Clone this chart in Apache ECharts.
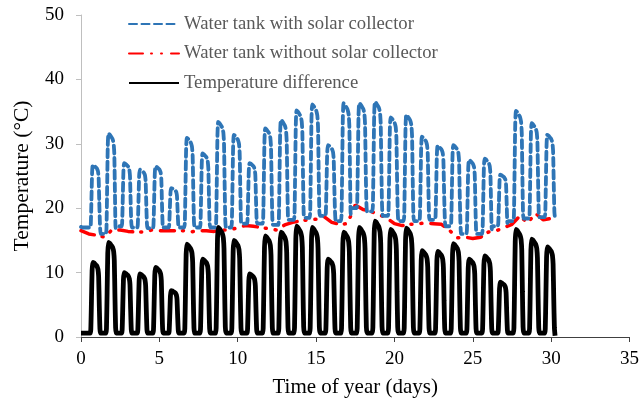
<!DOCTYPE html>
<html>
<head>
<meta charset="utf-8">
<script src="https://cdn.jsdelivr.net/npm/echarts@6/dist/echarts.min.js"></script>
<style>
  html, body { margin: 0; padding: 0; background: #fff; }
  #main { width: 642px; height: 403px; }
</style>
</head>
<body>
<div id="main"></div>
<script>
// daily peak values (cycle k peaks near day k)
var tankPeak = [26.7, 31.6, 27.0, 26.0, 26.5, 23.1, 30.9, 28.5, 33.4, 31.4,
                27.0, 32.4, 33.7, 35.2, 36.1, 29.8, 36.3, 36.3, 36.5, 34.1,
                34.5, 31.1, 29.7, 29.8, 27.5, 27.7, 25.2, 35.1, 33.2, 31.4];
// night-time tank temperature before each peak
var tankLow = [17.0, 16.0, 17.2, 17.0, 16.9, 17.0, 17.0, 17.0, 17.0, 17.0,
               17.6, 17.6, 17.4, 18.2, 18.5, 18.8, 18.0, 20.0, 19.5, 18.8,
               18.0, 18.0, 18.2, 17.2, 16.0, 16.0, 17.2, 18.0, 18.4, 18.6];
var diffPeak = [11.6, 14.7, 10.0, 9.8, 10.8, 7.2, 14.4, 12.1, 17.0, 15.0,
                9.8, 15.7, 16.3, 17.2, 17.0, 12.1, 16.3, 17.0, 18.0, 16.7,
                16.9, 13.4, 13.3, 14.5, 12.1, 12.6, 8.5, 16.7, 15.2, 14.0];
var diffLow = 0.6;
// tank without collector, every half day from day 0 to day 30
var plainTank = [16.5, 16.0, 15.8, 15.5, 16.7, 16.6, 16.4, 16.3, 16.3, 16.6,
                 16.5, 16.5, 16.5, 16.5, 16.3, 16.5, 16.5, 16.4, 16.6, 16.6,
                 17.0, 17.3, 17.2, 17.0, 16.8, 16.6, 17.4, 17.8, 18.0, 18.2,
                 18.3, 18.7, 17.8, 17.5, 17.6, 20.5, 19.8, 19.5, 19.0, 18.5,
                 17.6, 17.3, 17.5, 17.6, 17.7, 17.6, 17.5, 16.6, 15.4, 15.5,
                 15.3, 15.5, 16.3, 16.5, 17.0, 17.5, 18.8, 17.7, 19.2, 18.2, 18.4];
// hourly shape of one daily cycle (0 = night level, 1 = peak)
var dayShape = [0, 0, 0, 0, 0, 0, 0, 0, 0, 0.05, 0.45, 0.88,
                1.0, 1.0, 0.99, 0.98, 0.97, 0.96, 0.95, 0.93, 0.9, 0.8, 0.4, 0.06];

var xTicks = [0, 5, 10, 15, 20, 25, 30, 35];
var yTicks = [0, 10, 20, 30, 40, 50];

var tankData = [[0, 17.1], [0.125, 17.0]];
var diffData = [[0, diffLow], [0.125, diffLow]];
for (var k = 1; k <= 30; k++) {
    for (var h = 0; h < 24; h++) {
        var t = k - 0.75 + h / 24;
        var s = dayShape[h];
        tankData.push([t, tankLow[k - 1] + (tankPeak[k - 1] - tankLow[k - 1]) * s]);
        diffData.push([t, diffLow + (diffPeak[k - 1] - diffLow) * s]);
    }
}
tankData.push([30.25, 18.4]);
diffData.push([30.25, 0.2]);

var plainData = plainTank.map(function(v, i) { return [i / 2, v]; });

var serif = 'Liberation Serif';
var chart = echarts.init(document.getElementById('main'));
chart.setOption({
    animation: false,
    grid: { left: 81, right: 11, top: 15, bottom: 63 },
    legend: {
        orient: 'vertical',
        left: 128,
        top: 14,
        padding: 0,
        itemWidth: 50,
        itemHeight: 20,
        itemGap: 9.5,
        itemStyle: { opacity: 0 },
        textStyle: { color: '#595959', fontFamily: serif, fontSize: 18.7, lineHeight: 20 },
        data: ['Water tank with solar collector', 'Water tank without solar collector', 'Temperature difference']
    },
    xAxis: {
        type: 'value',
        min: 0, max: 35, interval: 5,
        name: 'Time of year (days)',
        nameLocation: 'middle',
        nameGap: 40,
        nameTextStyle: { color: '#000', fontFamily: serif, fontSize: 21 },
        axisLine: { lineStyle: { color: '#404040', width: 1 } },
        axisTick: { show: true, length: 5, lineStyle: { color: '#404040' } },
        axisLabel: {
            color: '#000', fontFamily: serif, fontSize: 19, margin: 13,
            formatter: function(v) { return xTicks.indexOf(v) >= 0 ? String(v) : ''; }
        },
        splitLine: { show: false }
    },
    yAxis: {
        type: 'value',
        min: 0, max: 50, interval: 10,
        name: 'Temperature (°C)',
        nameLocation: 'middle',
        nameGap: 48,
        nameTextStyle: { color: '#000', fontFamily: serif, fontSize: 21.5 },
        axisLine: { show: true, lineStyle: { color: '#bfbfbf', width: 1 } },
        axisTick: { show: true, length: 5, lineStyle: { color: '#bfbfbf' } },
        axisLabel: {
            color: '#000', fontFamily: serif, fontSize: 19, margin: 17,
            padding: [5, 0, 0, 0],
            formatter: function(v) { return yTicks.indexOf(v) >= 0 ? String(v) : ''; }
        },
        splitLine: { show: false }
    },
    series: [{
        name: 'Water tank with solar collector',
        type: 'line',
        data: tankData,
        symbol: 'none',
        smooth: 0.2,
        lineStyle: { color: '#2e75b6', width: 3.8, type: [8, 4.5], cap: 'round' },
        itemStyle: { color: '#2e75b6' },
        z: 3
    }, {
        name: 'Water tank without solar collector',
        type: 'line',
        data: plainData,
        symbol: 'none',
        lineStyle: { color: '#ff0000', width: 3.5, type: [14, 8, 1, 9, 1, 9], cap: 'round' },
        itemStyle: { color: '#ff0000' },
        z: 2
    }, {
        name: 'Temperature difference',
        type: 'line',
        data: diffData,
        symbol: 'none',
        smooth: 0.2,
        lineStyle: { color: '#000', width: 4.8 },
        itemStyle: { color: '#000' },
        z: 4
    }]
});
</script>
</body>
</html>
